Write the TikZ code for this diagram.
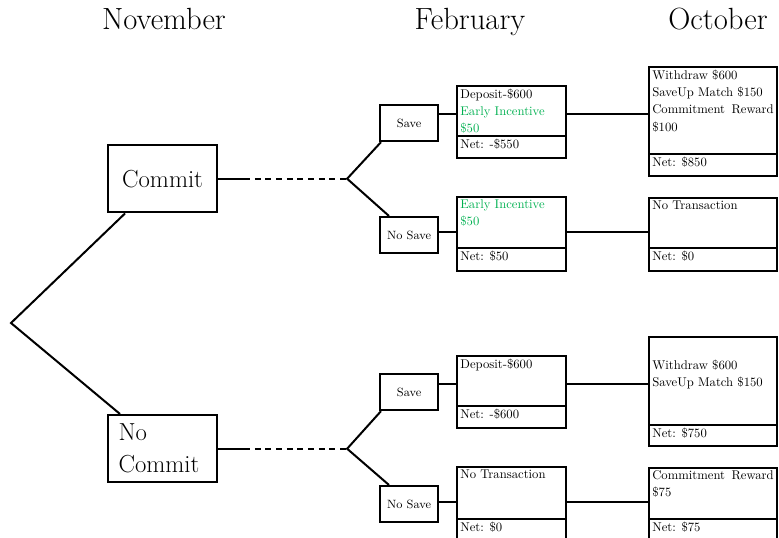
\documentclass[tikz,border=0pt]{standalone}
\usepackage{xcolor}
\usepackage{tikz}
\definecolor{incgreen}{RGB}{0,176,80}
\newcommand{\cellbox}[3]{\parbox[t][#2][t]{#1}{#3}}
\tikzset{month/.style={anchor=base,font=\fontsize{23}{27}\selectfont},
    choice/.style={draw,line width=1.6pt,anchor=north west,minimum width=81.75pt,
        minimum height=50.5pt,font=\fontsize{18.5}{24}\selectfont},
    savebox/.style={draw,line width=1.6pt,anchor=north west,minimum width=43.5pt,
        minimum height=27pt,inner sep=0pt,font=\fontsize{9}{10}\selectfont},
    cell/.style={draw,line width=1.6pt,anchor=north west,outer sep=0pt,inner xsep=2.5pt,
        inner ysep=2pt,font=\fontsize{9.5}{13}\selectfont},
    link/.style={line width=1.5pt},
    dotlink/.style={link,dash pattern=on 4.5pt off 3.5pt}}

\begin{document}
\begin{tikzpicture}[x=0.75pt,y=-0.75pt]
            \useasboundingbox (0,0) rectangle (779,538);
            \node[month] (nov) at (164,30) {November};
            \node[month] (feb) at (470,30) {February};
            \node[month] (oct) at (718,30) {October};

            \coordinate (root) at (11,323);
            \node[choice] (commit) at (107,144) {Commit};
            \node[choice,align=left,text width=66pt,inner xsep=7.875pt] (nocommit) at (107,414) {No\\Commit};

            \node[savebox] (save1) at (379,104) {Save};
            \node[savebox] (nosave1) at (379,216) {No Save};
            \node[savebox] (save2) at (379,373) {Save};
            \node[savebox] (nosave2) at (379,485) {No Save};

            \node[cell] (feb1) at (457,86) {\cellbox{76.75pt}{33.5pt}{Deposit-\$600\\\textcolor{incgreen}{Early Incentive\\\$50}}};
            \node[cell] (feb1n) at (feb1.south west) {\cellbox{76.75pt}{12.5pt}{Net: -\$550}};
            \node[cell] (feb2) at (457,197) {\cellbox{76.75pt}{34.25pt}{\textcolor{incgreen}{Early Incentive\\\$50}}};
            \node[cell] (feb2n) at (feb2.south west) {\cellbox{76.75pt}{13.25pt}{Net: \$50}};
            \node[cell] (feb3) at (457,356) {\cellbox{76.75pt}{33.5pt}{Deposit-\$600}};
            \node[cell] (feb3n) at (feb3.south west) {\cellbox{76.75pt}{12.5pt}{Net: -\$600}};
            \node[cell] (feb4) at (457,467) {\cellbox{76.75pt}{35pt}{No Transaction}};
            \node[cell] (feb4n) at (feb4.south west) {\cellbox{76.75pt}{12.5pt}{Net: \$0}};

            \node[cell] (oct1) at (649,67) {\cellbox{91pt}{61.25pt}{Withdraw \$600\\SaveUp Match \$150\\Commitment\hfill Reward\\\$100}};
            \node[cell] (oct1n) at (oct1.south west) {\cellbox{91pt}{12.5pt}{Net: \$850}};
            \node[cell] (oct2) at (649,198) {\cellbox{91pt}{33.5pt}{No Transaction}};
            \node[cell] (oct2n) at (oct2.south west) {\cellbox{91pt}{13.25pt}{Net: \$0}};
            \node[cell] (oct3) at (649,337) {\cellbox{91pt}{62pt}{\strut\\Withdraw \$600\\SaveUp Match \$150}};
            \node[cell] (oct3n) at (oct3.south west) {\cellbox{91pt}{11.75pt}{Net: \$750}};
            \node[cell] (oct4) at (649,468) {\cellbox{91pt}{34.25pt}{Commitment\hfill Reward\\\$75}};
            \node[cell] (oct4n) at (oct4.south west) {\cellbox{91pt}{12.5pt}{Net: \$75}};

            \draw[link] ([xshift=13.5pt]commit.south west) -- (root) -- ([xshift=9.75pt]nocommit.north west);

            \draw[link] (commit.east) -- ++(26,0) coordinate (cdash);
            \path (commit.east) ++(129,0) coordinate (cbr);
            \draw[dotlink] (cdash) -- (cbr);
            \draw[link] ([xshift=1.5pt]save1.south west) -- (cbr) -- ([xshift=7.5pt]nosave1.north west);

            \draw[link] (nocommit.east) -- ++(26,0) coordinate (ncdash);
            \path (nocommit.east) ++(129,0) coordinate (ncbr);
            \draw[dotlink] (ncdash) -- (ncbr);
            \draw[link] ([xshift=1.5pt]save2.south west) -- (ncbr) -- ([xshift=7.5pt]nosave2.north west);

            \draw[link] ([yshift=-7.5pt]save1.north east) coordinate (s1) -- (s1 -| feb1.west);
            \draw[link] (s1 -| feb1.east) -- (s1 -| oct1.west);
            \draw[link] ([yshift=-12pt]nosave1.north east) coordinate (s2) -- (s2 -| feb2.west);
            \draw[link] (s2 -| feb2.east) -- (s2 -| oct2.west);
            \draw[link] ([yshift=-8.25pt]save2.north east) coordinate (s3) -- (s3 -| feb3.west);
            \draw[link] (s3 -| feb3.east) -- (s3 -| oct3.west);
            \draw[link] ([yshift=-12.75pt]nosave2.north east) coordinate (s4) -- (s4 -| feb4.west);
            \draw[link] (s4 -| feb4.east) -- (s4 -| oct4.west);
        \end{tikzpicture}
\end{document}
